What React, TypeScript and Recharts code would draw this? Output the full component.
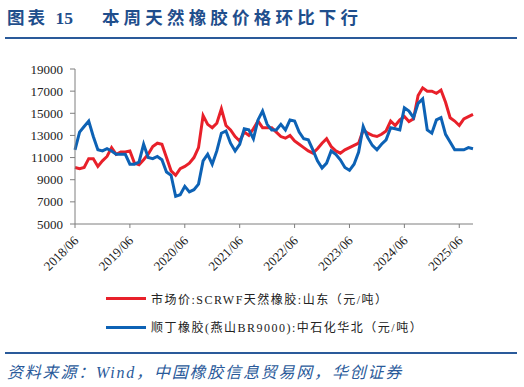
import { LineChart, Line, XAxis, YAxis } from "recharts";

// monthly points, 2018/06 .. 2025/09
const months: string[] = (() => {
  const out: string[] = [];
  for (let i = 0; i < 88; i++) {
    const t = 2018 * 12 + 5 + i;
    out.push(`${Math.floor(t / 12)}/${String((t % 12) + 1).padStart(2, "0")}`);
  }
  return out;
})();

const naturalRubber = [
  10100, 10000, 10100, 10900, 10900, 10200, 10700, 11100, 11900, 11300,
  11500, 11500, 11600, 10500, 10350, 10800, 11300, 12000, 12300, 12200,
  11000, 9800, 9400, 10000, 10200, 10500, 11000, 11900, 14800, 14000,
  13700, 14100, 15400, 13900, 13500, 12900, 12500, 13300, 13000, 13600,
  14300, 13700, 13700, 13700, 13300, 12900, 12750, 13000, 12500, 12200,
  11900, 11600, 11400, 11800, 12300, 12700, 12000, 11600, 11400, 11700,
  11900, 12100, 12300, 13500, 13200, 13000, 12900, 13100, 13400, 14300,
  13900, 14400, 14700, 14250, 14500, 16600, 17300, 17000, 17000, 16800,
  17100, 16000, 14600, 14300, 13900, 14500, 14700, 14900,
];

const butadieneRubber = [
  11700, 13300, 13800, 14300, 12900, 11700, 11600, 11800, 11600, 11300,
  11300, 11300, 10400, 10400, 10600, 12200, 11000, 10900, 11100, 10800,
  9700, 9400, 7500, 7650, 8400, 7900, 8100, 8600, 10700, 11300,
  10400, 11600, 13200, 13400, 12300, 11600, 12200, 13600, 13500, 12700,
  14400, 15200, 14000, 13500, 13500, 14000, 13500, 14400, 14300, 13300,
  12700, 12600, 11700, 10700, 10050, 10500, 11600, 11300, 10800, 10100,
  9850, 10400, 11500, 13800, 12800, 12100, 11700, 12200, 12600, 13700,
  13600, 13500, 15500, 15200, 14600, 15900, 16300, 13500, 13200, 14400,
  14600, 13100, 12400, 11700, 11700, 11700, 11900, 11800,
];

const xTicks = ["2018/06", "2019/06", "2020/06", "2021/06", "2022/06", "2023/06", "2024/06", "2025/06"];
const yTicks = [5000, 7000, 9000, 11000, 13000, 15000, 17000, 19000];

const seriesNames = [
  "市场价:SCRWF天然橡胶:山东（元/吨）",
  "顺丁橡胶(燕山BR9000):中石化华北（元/吨）",
];
const seriesColors = ["#E8202A", "#0D62B5"];

const data = months.map((m, i) => ({
  month: m,
  nr: naturalRubber[i],
  br: butadieneRubber[i],
}));

const serif = '"Liberation Serif", "Noto Sans CJK SC", serif';
const navy = "#1F4E8C";

const DateTick = (props: any) => {
  const { x, y, payload } = props;
  return (
    <g transform={`translate(${x},${y})`}>
      <text
        x={0}
        y={0}
        dx={-5}
        dy={11}
        textAnchor="end"
        transform="rotate(-45)"
        fontSize={13}
        fontFamily={serif}
        fill="#222"
      >
        {payload.value}
      </text>
    </g>
  );
};

export default function App() {
  return (
    <div style={{ position: "absolute", left: 0, top: 0, width: 524, height: 387, background: "#fff", fontFamily: serif }}>
      <div
        style={{
          position: "absolute",
          left: 7,
          top: 4,
          fontSize: 17.5,
          fontWeight: "bold",
          color: navy,
          fontFamily: serif,
          whiteSpace: "nowrap",
          letterSpacing: 3,
        }}
      >
        图表 <span style={{ letterSpacing: 0 }}>15</span>
        <span style={{ marginLeft: 29, letterSpacing: 4.2 }}>本周天然橡胶价格环比下行</span>
      </div>
      <div style={{ position: "absolute", left: 5, top: 37, width: 512, height: 2, background: "#2A5A9A" }} />

      <div style={{ position: "absolute", left: 0, top: 0 }}>
        <LineChart width={524} height={280} data={data} margin={{ top: 69, right: 51, bottom: 0, left: 15 }}>
          <XAxis
            dataKey="month"
            ticks={xTicks}
            interval={0}
            tick={<DateTick />}
            tickSize={4}
            tickMargin={2}
            height={56}
            stroke="#7F7F7F"
          />
          <YAxis
            domain={[5000, 19000]}
            ticks={yTicks}
            interval={0}
            width={60}
            tickSize={5}
            tickMargin={7}
            stroke="#7F7F7F"
            tick={{ fontSize: 13, fontFamily: serif, fill: "#222" }}
          />
          <Line type="linear" dataKey="nr" stroke={seriesColors[0]} strokeWidth={3} dot={false} isAnimationActive={false} />
          <Line type="linear" dataKey="br" stroke={seriesColors[1]} strokeWidth={3} dot={false} isAnimationActive={false} />
        </LineChart>
      </div>

      {seriesNames.map((name, i) => (
        <div
          key={name}
          style={{
            position: "absolute",
            left: 106,
            top: 290 + i * 28.5,
            height: 17,
            display: "flex",
            alignItems: "center",
            whiteSpace: "nowrap",
          }}
        >
          <span style={{ display: "inline-block", width: 40, height: 3, background: seriesColors[i], marginRight: 5 }} />
          <span style={{ fontSize: 12, color: "#222", letterSpacing: 1.5 }}>{name}</span>
        </div>
      ))}

      <div style={{ position: "absolute", left: 5, top: 352, width: 512, height: 1.5, background: "#2A5A9A" }} />
      <div
        style={{
          position: "absolute",
          left: 7,
          top: 359,
          fontSize: 16,
          fontStyle: "italic",
          color: "#2A5A9A",
          letterSpacing: 1.8,
          whiteSpace: "nowrap",
        }}
      >
        资料来源：Wind，中国橡胶信息贸易网，华创证券
      </div>
    </div>
  );
}
